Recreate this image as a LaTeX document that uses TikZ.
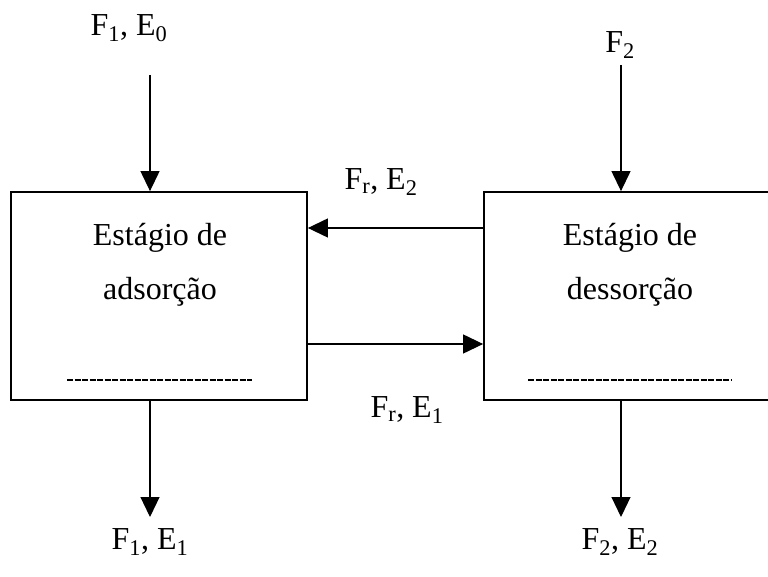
\documentclass[tikz,border=0pt]{standalone}
\usepackage{fontspec}
\setmainfont{Liberation Serif}
\usetikzlibrary{arrows.meta, positioning}
\tikzset{
  stage/.style={draw, line width=1.8pt, minimum width=296pt, minimum height=208pt, inner sep=0pt},
  stagetxt/.style={align=center, font=\fontsize{32}{54}\selectfont, inner sep=0pt},
  flow/.style={line width=1.2pt, -{Triangle[length=20pt,width=19pt]}},
  lbl/.style={font=\fontsize{32}{38}\selectfont, inner sep=0pt},
  blank/.style={line width=2pt, dash pattern=on 6pt off 1.5pt}
}

\begin{document}
\begin{tikzpicture}[x=1pt, y=-1pt]
        \useasboundingbox (0,0) rectangle (768,577);
        % Stages
        \node[stage] (ads) at (159,296) {};
        \node[stage] (des) at (632,296) {};
        \node[stagetxt] (adstxt) at (160,265) {Estágio de\\adsorção};
        \node[stagetxt] (destxt) at (630,265) {Estágio de\\dessorção};
        \draw[blank] (67,380) -- (252,380);
        \draw[blank] (528,380) -- (732,380);
        % Stream labels
        \node[lbl] (f1e0) at (129,28) {F\textsubscript{1}, E\textsubscript{0}};
        \node[lbl] (f2) at (620,45) {F\textsubscript{2}};
        \node[lbl] (fre2) at (381,182) {F\textsubscript{r}, E\textsubscript{2}};
        \node[lbl] (fre1) at (407,410) {F\textsubscript{r}, E\textsubscript{1}};
        \node[lbl] (f1e1) at (150,542) {F\textsubscript{1}, E\textsubscript{1}};
        \node[lbl] (f2e2) at (620,542) {F\textsubscript{2}, E\textsubscript{2}};
        % Feeds
        \coordinate (in1) at (150,75);
        \coordinate (in2) at (621,65);
        \draw[flow] (in1) -- (in1 |- ads.north);
        \draw[flow] (in2) -- (in2 |- des.north);
        % Products
        \coordinate (out1) at (150,517);
        \coordinate (out2) at (621,517);
        \draw[flow] (out1 |- ads.south) -- (out1);
        \draw[flow] (out2 |- des.south) -- (out2);
        % Recycle
        \coordinate (rec2) at (0,228);
        \coordinate (rec1) at (0,344);
        \draw[flow] (rec2 -| des.west) -- (rec2 -| ads.east);
        \draw[flow] (rec1 -| ads.east) -- (rec1 -| des.west);
\end{tikzpicture}
\end{document}
